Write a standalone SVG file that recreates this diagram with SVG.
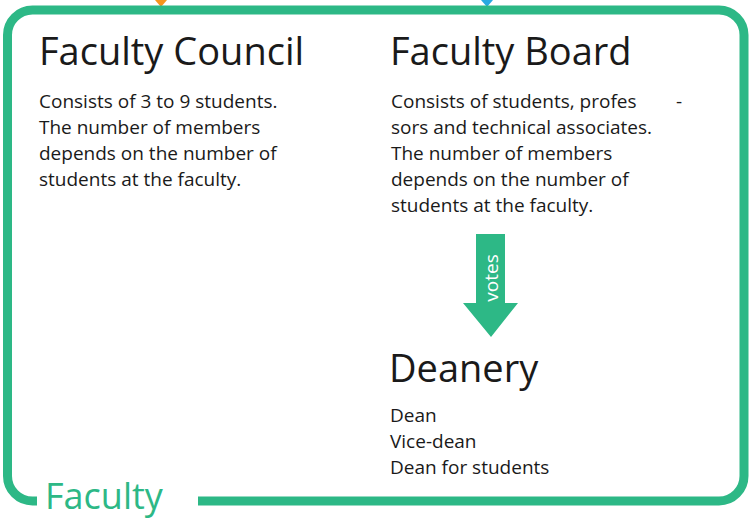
<svg xmlns="http://www.w3.org/2000/svg" width="750" height="519" viewBox="0 0 750 519">
<style>
.t{font-family:"Open Sans","Noto Sans",sans-serif;fill:#1a1a1a}
.h{font-size:38px}
.b{font-size:19px}
</style>
<rect width="750" height="519" fill="#fff"/>
<g id="incoming">
<polygon points="155,0 167,0 161,7" fill="#f7941d"/>
<polygon points="481,0 493,0 487,7" fill="#29a9e1"/>
</g>
<g id="faculty">
<path d="M198,501 H719 A25,25 0 0 0 744,476 V35 A25,25 0 0 0 719,10 H32.5 A25,25 0 0 0 7.5,35 V476 A25,25 0 0 0 32.5,501 H37" fill="none" stroke="#2db886" stroke-width="9"/>
<text x="45" y="509" font-family="Open Sans,Noto Sans,sans-serif" font-size="36" fill="#2db886">Faculty</text>
</g>
<g id="council">
<text class="t h" x="39" y="65">Faculty Council</text>
<text class="t b" x="39" y="108">Consists of 3 to 9 students.</text>
<text class="t b" x="39" y="134">The number of members</text>
<text class="t b" x="39" y="160">depends on the number of</text>
<text class="t b" x="39" y="186">students at the faculty.</text>
</g>
<g id="board">
<text class="t h" x="390" y="65">Faculty Board</text>
<text class="t b" x="391" y="108">Consists of students, profes</text>
<text class="t b" x="676" y="108">-</text>
<text class="t b" x="391" y="134">sors and technical associates.</text>
<text class="t b" x="391" y="160">The number of members</text>
<text class="t b" x="391" y="186">depends on the number of</text>
<text class="t b" x="391" y="212">students at the faculty.</text>
</g>
<g id="connectors">
<polygon points="476,234 505,234 505,303 518,303 491,337 463,303 476,303" fill="#2db886"/>
<text x="0" y="0" transform="translate(498,278) rotate(-90)" text-anchor="middle" font-family="Open Sans,Noto Sans,sans-serif" font-size="19" fill="#fff">votes</text>
</g>
<g id="deanery">
<text class="t h" x="389" y="382">Deanery</text>
<text class="t b" x="390" y="422">Dean</text>
<text class="t b" x="390" y="448">Vice-dean</text>
<text class="t b" x="390" y="474">Dean for students</text>
</g>
</svg>
